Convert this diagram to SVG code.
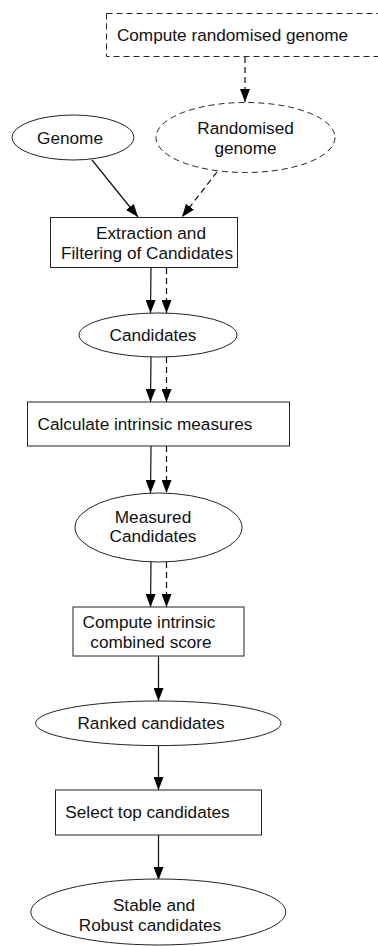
<svg xmlns="http://www.w3.org/2000/svg" width="378" height="946" viewBox="0 0 378 946">
<defs>
<style>
text{font-family:"Liberation Sans",Arial,sans-serif;font-size:17.2px;fill:#111;text-anchor:middle;dominant-baseline:central}
.n{fill:#fff;stroke:#222;stroke-width:1}
.d{stroke-dasharray:6,4}
.e{fill:none;stroke:#111;stroke-width:1.2}
</style>
<marker id="ah" viewBox="0 0 13 10" refX="13" refY="5" markerWidth="13" markerHeight="10" markerUnits="userSpaceOnUse" orient="auto">
<path d="M0,0 L13,5 L0,10 z" fill="#000"/>
</marker>
</defs>
<rect width="378" height="946" fill="#fff"/>
<g id="edges">
<line class="e d" x1="245" y1="57" x2="245" y2="102" marker-end="url(#ah)"/>
<line class="e" x1="92" y1="160" x2="138" y2="217" marker-end="url(#ah)"/>
<line class="e d" x1="217" y1="172" x2="182" y2="217" marker-end="url(#ah)"/>
<line class="e" x1="151" y1="268" x2="150.5" y2="313" marker-end="url(#ah)"/>
<line class="e d" x1="166.5" y1="268" x2="166.5" y2="313" marker-end="url(#ah)"/>
<line class="e" x1="151" y1="357" x2="150.5" y2="402" marker-end="url(#ah)"/>
<line class="e d" x1="166.5" y1="357" x2="166.5" y2="402" marker-end="url(#ah)"/>
<line class="e" x1="151" y1="446" x2="150.5" y2="493" marker-end="url(#ah)"/>
<line class="e d" x1="166.5" y1="446" x2="166.5" y2="493" marker-end="url(#ah)"/>
<line class="e" x1="151" y1="562" x2="150.5" y2="607" marker-end="url(#ah)"/>
<line class="e d" x1="166.5" y1="562" x2="166.5" y2="607" marker-end="url(#ah)"/>
<line class="e" x1="158.5" y1="656" x2="158.5" y2="701" marker-end="url(#ah)"/>
<line class="e" x1="158.5" y1="746" x2="158.5" y2="790" marker-end="url(#ah)"/>
<line class="e" x1="158.5" y1="835" x2="158.5" y2="880" marker-end="url(#ah)"/>
</g>
<g id="compute-randomised">
<rect class="n d" x="106.5" y="13.5" width="285" height="43"/>
<text x="232.5" y="35">Compute randomised genome</text>
</g>
<g id="randomised-genome">
<ellipse class="n d" cx="245.5" cy="137.5" rx="89.5" ry="35"/>
<text x="245.5" y="128">Randomised</text>
<text x="245.5" y="148">genome</text>
</g>
<g id="genome">
<ellipse class="n" cx="73" cy="137.5" rx="61" ry="22.5"/>
<text x="70" y="138">Genome</text>
</g>
<g id="extraction">
<rect class="n" x="50.5" y="217.5" width="187" height="50"/>
<text x="151" y="233">Extraction and</text>
<text x="147" y="253">Filtering of Candidates</text>
</g>
<g id="candidates">
<ellipse class="n" cx="158" cy="335" rx="79" ry="22"/>
<text x="153" y="335">Candidates</text>
</g>
<g id="calculate">
<rect class="n" x="27.5" y="402" width="262" height="44"/>
<text x="145" y="424">Calculate intrinsic measures</text>
</g>
<g id="measured">
<ellipse class="n" cx="158.5" cy="527.5" rx="83.5" ry="34.5"/>
<text x="153" y="517">Measured</text>
<text x="153" y="536">Candidates</text>
</g>
<g id="compute-score">
<rect class="n" x="73" y="607" width="171" height="49"/>
<text x="149" y="622">Compute intrinsic</text>
<text x="151" y="642">combined score</text>
</g>
<g id="ranked">
<ellipse class="n" cx="158.3" cy="723.3" rx="122.7" ry="22.3"/>
<text x="151" y="723">Ranked candidates</text>
</g>
<g id="select">
<rect class="n" x="55.5" y="790" width="206" height="45"/>
<text x="147.5" y="812">Select top candidates</text>
</g>
<g id="stable">
<ellipse class="n" cx="158.3" cy="912" rx="127.5" ry="33"/>
<text x="154" y="905">Stable and</text>
<text x="150" y="925">Robust candidates</text>
</g>
</svg>
